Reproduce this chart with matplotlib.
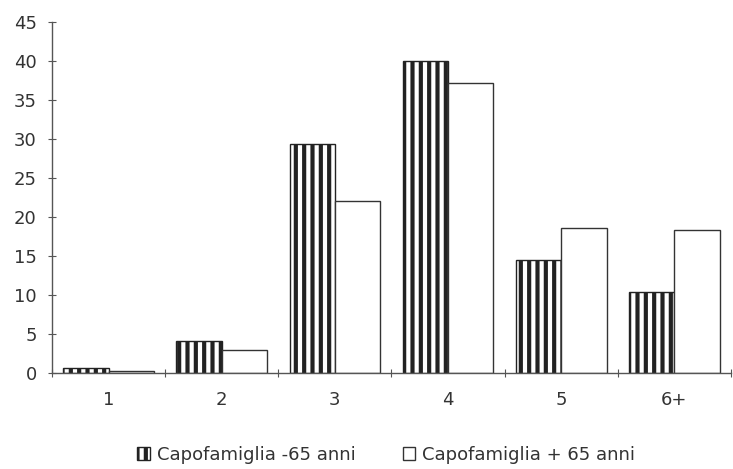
import numpy as np
import matplotlib.pyplot as plt

plt.rcParams['font.family'] = ['DejaVu Sans']
plt.rcParams['hatch.linewidth'] = 3.0

# data
categories = ['1', '2', '3', '4', '5', '6+']
under_65 = [0.7, 4.1, 29.3, 40.0, 14.5, 10.4]
over_65 = [0.3, 2.9, 22.0, 37.2, 18.6, 18.3]
yticks = [0, 5, 10, 15, 20, 25, 30, 35, 40, 45]

fig = plt.figure(figsize=(7.33, 4.69), dpi=100)
ax = fig.add_axes([52 / 733, 96 / 469, 679 / 733, 351 / 469])

x = np.arange(len(categories))
w = 0.4
ax.bar(x - w / 2, under_65, w, color='white', edgecolor='#222222',
       hatch='||', linewidth=1.0, label='Capofamiglia -65 anni')
ax.bar(x + w / 2, over_65, w, color='white', edgecolor='#333333',
       linewidth=1.0, label='Capofamiglia + 65 anni')

ax.set_xlim(-0.5, len(categories) - 0.5)
ax.set_ylim(0, 45)
ax.set_yticks(yticks)
ax.set_xticks(np.arange(len(categories) + 1) - 0.5)
ax.set_xticklabels([])
ax.set_xticks(x, minor=True)
ax.set_xticklabels(categories, minor=True)

for s in ['top', 'right']:
    ax.spines[s].set_visible(False)
for s in ['left', 'bottom']:
    ax.spines[s].set_color('#555555')
    ax.spines[s].set_linewidth(1.0)

ax.tick_params(axis='y', direction='inout', length=6, colors='#555555',
               labelcolor='#333333', labelsize=13, pad=8)
ax.tick_params(axis='x', which='major', direction='inout', length=6,
               colors='#555555')
ax.tick_params(axis='x', which='minor', length=0, labelcolor='#333333',
               labelsize=13, pad=13)

fig.legend(loc='center', bbox_to_anchor=(0.527, 0.03), ncol=2, frameon=False,
           fontsize=13, handlelength=0.7, handleheight=0.7, handletextpad=0.4,
           columnspacing=2.6, labelcolor='#333333')

fig.savefig('out.png', dpi=100)
